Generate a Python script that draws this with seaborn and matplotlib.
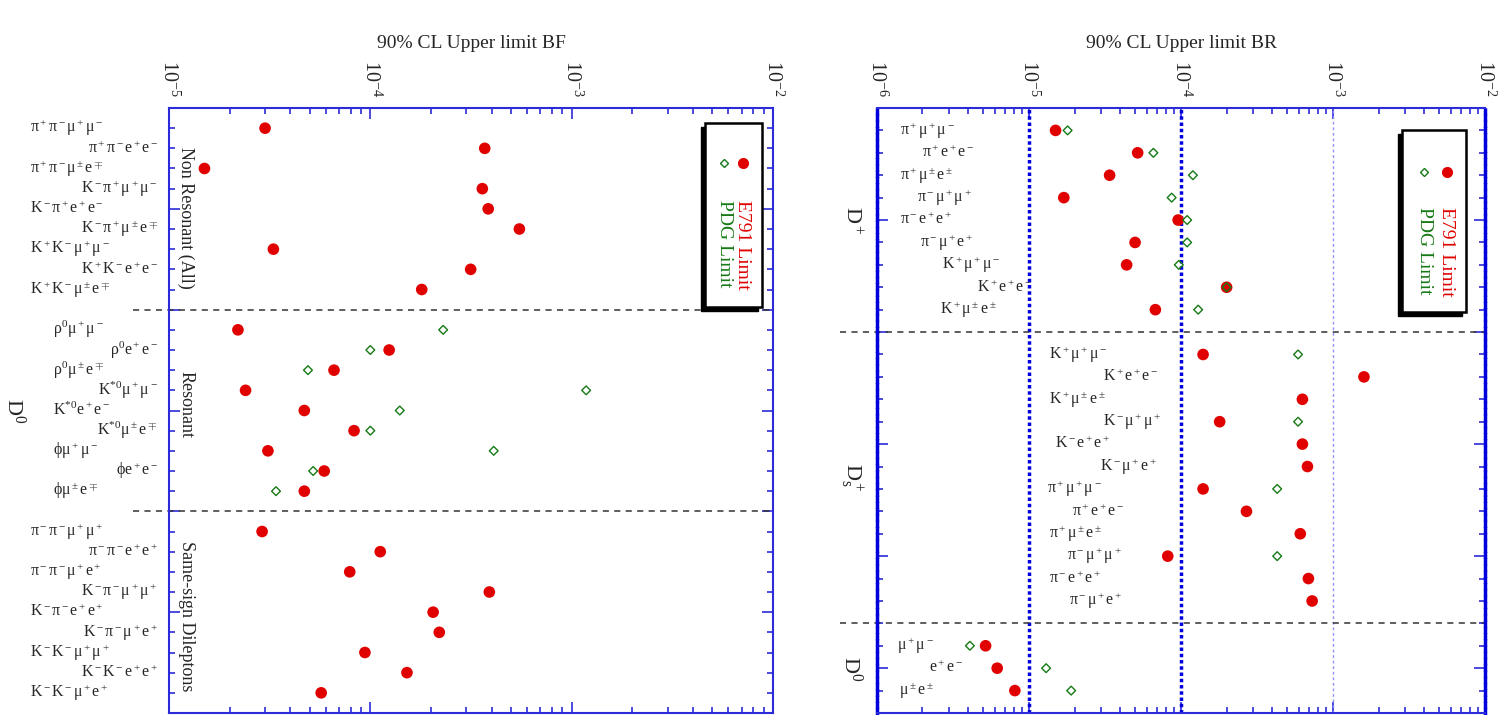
import numpy as np
import pandas as pd
import matplotlib.pyplot as plt
import matplotlib.transforms as mtransforms
from matplotlib.patches import Rectangle
from matplotlib.lines import Line2D
from matplotlib.ticker import LogLocator, FixedLocator, NullFormatter
import seaborn as sns

sns.set_style('white')
plt.rcParams['font.family'] = ['Liberation Serif', 'DejaVu Serif']
plt.rcParams['mathtext.fontset'] = 'custom'
plt.rcParams['mathtext.rm'] = 'Liberation Serif'
plt.rcParams['mathtext.it'] = 'Liberation Serif:italic'
plt.rcParams['mathtext.default'] = 'rm'

RED = '#e00000'
GREEN = '#157a15'
BLUE = '#2b2bd9'
NAN = np.nan

# ---- left panel: D0 decays, 90% CL upper limit BF ----
nonres_labels = [r'$\pi^+\pi^-\mu^+\mu^-$', r'$\pi^+\pi^-e^+e^-$', r'$\pi^+\pi^-\mu^\pm e^\mp$',
                 r'$K^-\pi^+\mu^+\mu^-$', r'$K^-\pi^+e^+e^-$', r'$K^-\pi^+\mu^\pm e^\mp$',
                 r'$K^+K^-\mu^+\mu^-$', r'$K^+K^-e^+e^-$', r'$K^+K^-\mu^\pm e^\mp$']
nonres_e791 = [3.0e-5, 3.7e-4, 1.5e-5, 3.6e-4, 3.85e-4, 5.5e-4, 3.3e-5, 3.15e-4, 1.8e-4]
nonres_pdg = [NAN] * 9

res_labels = [r'$\rho^0\mu^+\mu^-$', r'$\rho^0e^+e^-$', r'$\rho^0\mu^\pm e^\mp$',
              r'$K^{*0}\mu^+\mu^-$', r'$K^{*0}e^+e^-$', r'$K^{*0}\mu^\pm e^\mp$',
              r'$\phi\mu^+\mu^-$', r'$\phi e^+e^-$', r'$\phi\mu^\pm e^\mp$']
res_e791 = [2.2e-5, 1.24e-4, 6.6e-5, 2.4e-5, 4.7e-5, 8.3e-5, 3.1e-5, 5.9e-5, 4.7e-5]
res_pdg = [2.3e-4, 1.0e-4, 4.9e-5, 1.18e-3, 1.4e-4, 1.0e-4, 4.1e-4, 5.2e-5, 3.4e-5]

ss_labels = [r'$\pi^-\pi^-\mu^+\mu^+$', r'$\pi^-\pi^-e^+e^+$', r'$\pi^-\pi^-\mu^+e^+$',
             r'$K^-\pi^-\mu^+\mu^+$', r'$K^-\pi^-e^+e^+$', r'$K^-\pi^-\mu^+e^+$',
             r'$K^-K^-\mu^+\mu^+$', r'$K^-K^-e^+e^+$', r'$K^-K^-\mu^+e^+$']
ss_e791 = [2.9e-5, 1.12e-4, 7.9e-5, 3.9e-4, 2.05e-4, 2.2e-4, 9.4e-5, 1.52e-4, 5.7e-5]
ss_pdg = [NAN] * 9

left_sections = ['Non Resonant (All)', 'Resonant', 'Same-sign Dileptons']

# ---- right panel: D+, Ds+, D0, 90% CL upper limit BR ----
dp_labels = [r'$\pi^+\mu^+\mu^-$', r'$\pi^+e^+e^-$', r'$\pi^+\mu^\pm e^\pm$',
             r'$\pi^-\mu^+\mu^+$', r'$\pi^-e^+e^+$', r'$\pi^-\mu^+e^+$',
             r'$K^+\mu^+\mu^-$', r'$K^+e^+e^-$', r'$K^+\mu^\pm e^\pm$']
dp_e791 = [1.5e-5, 5.2e-5, 3.4e-5, 1.7e-5, 9.6e-5, 5.0e-5, 4.4e-5, 2.0e-4, 6.8e-5]
dp_pdg = [1.8e-5, 6.6e-5, 1.2e-4, 8.7e-5, 1.1e-4, 1.1e-4, 9.7e-5, 2.0e-4, 1.3e-4]

ds_labels = [r'$K^+\mu^+\mu^-$', r'$K^+e^+e^-$', r'$K^+\mu^\pm e^\pm$',
             r'$K^-\mu^+\mu^+$', r'$K^-e^+e^+$', r'$K^-\mu^+e^+$',
             r'$\pi^+\mu^+\mu^-$', r'$\pi^+e^+e^-$', r'$\pi^+\mu^\pm e^\pm$',
             r'$\pi^-\mu^+\mu^+$', r'$\pi^-e^+e^+$', r'$\pi^-\mu^+e^+$']
ds_e791 = [1.4e-4, 1.6e-3, 6.3e-4, 1.8e-4, 6.3e-4, 6.8e-4, 1.4e-4, 2.7e-4, 6.1e-4, 8.2e-5, 6.9e-4, 7.3e-4]
ds_pdg = [5.9e-4, NAN, NAN, 5.9e-4, NAN, NAN, 4.3e-4, NAN, NAN, 4.3e-4, NAN, NAN]

d0_labels = [r'$\mu^+\mu^-$', r'$e^+e^-$', r'$\mu^\pm e^\pm$']
d0_e791 = [5.2e-6, 6.2e-6, 8.1e-6]
d0_pdg = [4.1e-6, 1.3e-5, 1.9e-5]

right_sections = [r'$D^+$', r'$D_s^+$', r'$D^0$']


def build(sections):
    frames, dividers, mids = [], [], []
    start = 0
    for labels, e791, pdg in sections:
        n = len(labels)
        frames.append(pd.DataFrame({'row': np.arange(start, start + n), 'label': labels,
                                    'e791': e791, 'pdg': pdg}))
        mids.append(start + (n - 1) / 2)
        start += n
        dividers.append(start)
        start += 1
    return pd.concat(frames, ignore_index=True), dividers[:-1], mids, start - 1


df_l, div_l, mid_l, end_l = build([(nonres_labels, nonres_e791, nonres_pdg),
                                   (res_labels, res_e791, res_pdg),
                                   (ss_labels, ss_e791, ss_pdg)])
df_r, div_r, mid_r, end_r = build([(dp_labels, dp_e791, dp_pdg),
                                   (ds_labels, ds_e791, ds_pdg),
                                   (d0_labels, d0_e791, d0_pdg)])

W, H = 1509, 715
fig = plt.figure(figsize=(W / 100, H / 100), dpi=100)
ax1 = fig.add_axes([169 / W, 1 - 713 / H, 604 / W, 605 / H])
ax2 = fig.add_axes([876.7 / W, 1 - 713 / H, 608.3 / W, 605 / H])


def points(ax, df):
    sns.scatterplot(data=df.dropna(subset=['e791']), x='e791', y='row', ax=ax, color=RED,
                    s=70, edgecolor='none', zorder=3, legend=False)
    pdg = df.dropna(subset=['pdg'])
    if len(pdg):
        sns.scatterplot(data=pdg, x='pdg', y='row', ax=ax, color=GREEN, marker='D',
                        s=20, linewidth=1, zorder=4, legend=False)
        ax.collections[-1].set_facecolor('none')
        ax.collections[-1].set_edgecolor(GREEN)


def style_axes(ax, xlim, end):
    ax.set_xscale('log')
    ax.set_xlim(*xlim)
    ax.set_ylim(end, -1)
    ax.xaxis.set_major_locator(LogLocator(base=10))
    ax.xaxis.set_minor_locator(LogLocator(base=10, subs=np.arange(2, 10)))
    ax.xaxis.set_minor_formatter(NullFormatter())
    ax.yaxis.set_major_locator(FixedLocator(np.arange(-1, end + 1, 5)))
    ax.yaxis.set_minor_locator(FixedLocator(np.arange(-1, end + 1)))
    ax.tick_params(axis='x', which='both', direction='in', top=True, bottom=True,
                   labeltop=True, labelbottom=False, labelrotation=-90, labelsize=14.5, pad=8)
    ax.tick_params(axis='y', which='both', direction='in', left=True, right=True, labelleft=False)
    ax.tick_params(which='both', color=BLUE, width=1.2)
    ax.tick_params(which='major', length=8)
    ax.tick_params(which='minor', length=4)
    for sp in ax.spines.values():
        sp.set_color(BLUE)
        sp.set_linewidth(1.5)
    ax.set_xlabel('')
    ax.set_ylabel('')


points(ax1, df_l)
points(ax2, df_r)
style_axes(ax1, (1e-5, 1e-2), end_l)
style_axes(ax2, (1e-6, 1e-2), end_r)

# right panel reference lines
for sp in ('left', 'right'):
    ax2.spines[sp].set_linestyle((0, (1, 0.8)))
    ax2.spines[sp].set_linewidth(2.5)
    ax2.spines[sp].set_color('#0000dd')
for xv in (1e-5, 1e-4):
    ax2.axvline(xv, color='#0000dd', ls=(0, (1, 0.8)), lw=2.5, zorder=1)
ax2.axvline(1e-3, color='#9090ff', ls=(0, (2, 2)), lw=1, zorder=1)

# section dividers
for ax, divs in ((ax1, div_l), (ax2, div_r)):
    for d in divs:
        ax.plot([-0.06, 1], [d, d], transform=ax.get_yaxis_transform(), clip_on=False,
                color='#333333', lw=1.1, ls=(0, (4, 3.5)), zorder=2)

# category labels
tl = mtransforms.blended_transform_factory(fig.transFigure, ax1.transData)
for r, lab in zip(df_l['row'], df_l['label']):
    if r % 2 == 0:
        x0 = 53 if 10 <= r <= 18 else 30
        ax1.text(x0 / W, r, lab, transform=tl, ha='left', va='center', fontsize=11.5, clip_on=False)
    else:
        ax1.text(158 / W, r, lab, transform=tl, ha='right', va='center', fontsize=11.5, clip_on=False)

right_x = [900, 922, 900, 917, 900, 920, 942, 977, 940,
           1049, 1103, 1049, 1103, 1055, 1100, 1047, 1072, 1049, 1067, 1049, 1069,
           897, 929, 899]
tr = mtransforms.blended_transform_factory(fig.transFigure, ax2.transData)
for x0, r, lab in zip(right_x, df_r['row'], df_r['label']):
    ax2.text(x0 / W, r, lab, transform=tr, ha='left', va='center', fontsize=11.5)

# section names
for name, mid, off in zip(left_sections, mid_l, [0.45, -0.3, 0.2]):
    ax1.text(186 / W, mid + off, name, transform=tl, rotation=-90, ha='center', va='center', fontsize=13)
ax1.text(14 / W, end_l / 2 - 0.5, r'$D^0$', transform=tl, rotation=-90, ha='center', va='center', fontsize=16)
for name, mid in zip(right_sections, mid_r):
    ax2.text(851 / W, mid, name, transform=tr, rotation=-90, ha='center', va='center', fontsize=16)

# titles
fig.text(471 / W, 1 - 43 / H, '90% CL Upper limit BF', ha='center', va='center', fontsize=14)
fig.text(1181 / W, 1 - 43 / H, '90% CL Upper limit BR', ha='center', va='center', fontsize=14)


def draw_legend(x0, y0, x1, y1, xr, xg, my, ty):
    w, h = (x1 - x0) / W, (y1 - y0) / H
    fig.add_artist(Rectangle(((x0 - 4) / W, 1 - (y1 + 4) / H), w, h, transform=fig.transFigure,
                             facecolor='black', edgecolor='black', zorder=5))
    fig.add_artist(Rectangle((x0 / W, 1 - y1 / H), w, h, transform=fig.transFigure,
                             facecolor='white', edgecolor='black', lw=1.8, zorder=6))
    fig.add_artist(Line2D([xr / W], [1 - my / H], transform=fig.transFigure, marker='o', ms=8,
                          color=RED, mec='none', zorder=7))
    fig.add_artist(Line2D([xg / W], [1 - my / H], transform=fig.transFigure, marker='D', ms=4.5,
                          mfc='none', mec=GREEN, mew=1, zorder=7))
    fig.text(xr / W, 1 - ty / H, 'E791 Limit', color=RED, rotation=-90, ha='center', va='top',
             fontsize=14, zorder=7)
    fig.text(xg / W, 1 - ty / H, 'PDG Limit', color=GREEN, rotation=-90, ha='center', va='top',
             fontsize=14, zorder=7)


draw_legend(705, 123, 762, 307, 743, 724, 163, 200)
draw_legend(1402, 130, 1466, 312, 1447, 1424, 172, 207)

fig.savefig('out.png', dpi=100)
